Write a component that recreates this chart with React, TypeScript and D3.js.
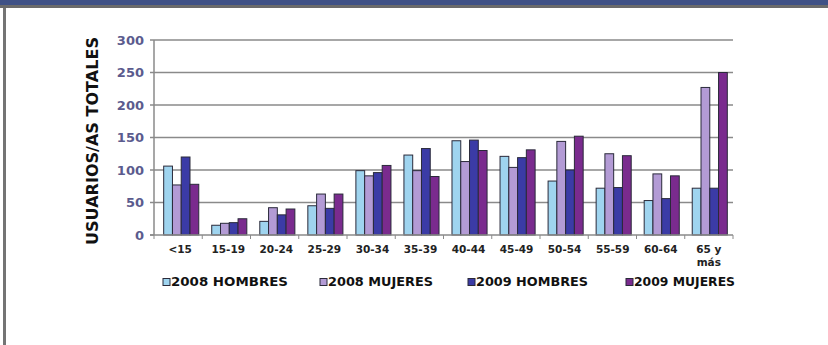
import React, { useEffect, useRef } from 'react';
import * as d3 from 'd3';

const categories = ['<15', '15-19', '20-24', '25-29', '30-34', '35-39', '40-44', '45-49', '50-54', '55-59', '60-64', '65 y más'];
const seriesNames = ['2008 HOMBRES', '2008 MUJERES', '2009 HOMBRES', '2009 MUJERES'];
const hombres2008 = [106, 15, 21, 45, 99, 123, 145, 121, 83, 72, 53, 72];
const mujeres2008 = [77, 18, 42, 63, 91, 99, 113, 104, 144, 125, 94, 227];
const hombres2009 = [120, 19, 31, 41, 96, 133, 146, 119, 100, 73, 56, 72];
const mujeres2009 = [78, 25, 40, 63, 107, 90, 130, 131, 152, 122, 91, 250];
const yTicks = [0, 50, 100, 150, 200, 250, 300];
const colors = ['#9fd4ef', '#b39bd5', '#3b3ba6', '#7a2b8e'];

const App: React.FC = () => {
  const chartRef = useRef<SVGSVGElement | null>(null);

  useEffect(() => {
    drawChart();
  }, []);

  const drawChart = () => {
    const svg = d3.select(chartRef.current);
    svg.selectAll('*').remove();

    const margin = { top: 40, left: 154, right: 95, bottom: 110 };
    const W = 828;
    const H = 345;
    const width = W - margin.left - margin.right;
    const height = H - margin.top - margin.bottom;

    // frame
    svg.append('rect').attr('x', 0).attr('y', 0).attr('width', W).attr('height', 5).attr('fill', '#3f5186');
    svg.append('rect').attr('x', 0).attr('y', 5).attr('width', W).attr('height', 3).attr('fill', '#6b6b6b');
    svg.append('rect').attr('x', 3).attr('y', 8).attr('width', 3).attr('height', H - 8).attr('fill', '#747474');

    const g = svg.append('g').attr('transform', `translate(${margin.left},${margin.top})`);

    const x = d3.scaleBand().domain(categories).range([0, width]).paddingInner(0.27).paddingOuter(0.16);
    const xSub = d3.scaleBand().domain(seriesNames).range([0, x.bandwidth()]).padding(0);
    const y = d3.scaleLinear().domain([0, 300]).range([height, 0]);

    // grid
    g.selectAll('.grid')
      .data(yTicks.filter((t) => t > 0))
      .enter()
      .append('line')
      .attr('x1', 0)
      .attr('x2', width)
      .attr('y1', (d) => y(d))
      .attr('y2', (d) => y(d))
      .attr('stroke', '#8a8a8a')
      .attr('stroke-width', 1.5);

    // y axis
    g.append('line').attr('x1', 0).attr('x2', 0).attr('y1', 0).attr('y2', height).attr('stroke', '#8a8a8a').attr('stroke-width', 1.5);
    g.selectAll('.ytick')
      .data(yTicks)
      .enter()
      .append('line')
      .attr('x1', -4)
      .attr('x2', 0)
      .attr('y1', (d) => y(d))
      .attr('y2', (d) => y(d))
      .attr('stroke', '#8a8a8a')
      .attr('stroke-width', 1.5);
    g.selectAll('.ylabel')
      .data(yTicks)
      .enter()
      .append('text')
      .attr('x', -10)
      .attr('y', (d) => y(d))
      .attr('dy', '0.35em')
      .attr('text-anchor', 'end')
      .attr('font-family', 'DejaVu Sans, Verdana, sans-serif')
      .attr('font-weight', 'bold')
      .attr('font-size', 13)
      .attr('fill', '#5b5b8e')
      .text((d) => d);

    g.append('text')
      .attr('transform', `translate(${93 - margin.left},${141 - margin.top}) rotate(-90)`)
      .attr('text-anchor', 'middle')
      .attr('dy', '0.35em')
      .attr('font-family', 'DejaVu Sans, Verdana, sans-serif')
      .attr('font-weight', 'bold')
      .attr('font-size', 15)
      .attr('fill', '#111')
      .attr('textLength', 208)
      .attr('lengthAdjust', 'spacingAndGlyphs')
      .text('USUARIOS/AS TOTALES');

    // bars
    const series = [hombres2008, mujeres2008, hombres2009, mujeres2009];
    categories.forEach((c, i) => {
      series.forEach((vals, s) => {
        g.append('rect')
          .attr('x', (x(c) ?? 0) + 2 + (xSub(seriesNames[s]) ?? 0))
          .attr('y', y(vals[i]))
          .attr('width', xSub.bandwidth())
          .attr('height', height - y(vals[i]))
          .attr('fill', colors[s])
          .attr('stroke', '#2a2a3a')
          .attr('stroke-width', 1);
      });
    });

    // x axis
    g.append('line').attr('x1', -4).attr('x2', width).attr('y1', height).attr('y2', height).attr('stroke', '#8a8a8a').attr('stroke-width', 1.5);
    g.selectAll('.xtick')
      .data(d3.range(categories.length + 1))
      .enter()
      .append('line')
      .attr('x1', (d) => d * (width / categories.length))
      .attr('x2', (d) => d * (width / categories.length))
      .attr('y1', height)
      .attr('y2', height + 4)
      .attr('stroke', '#8a8a8a')
      .attr('stroke-width', 1);

    const xl = g
      .selectAll('.xlabel')
      .data(categories)
      .enter()
      .append('text')
      .attr('x', (d) => (x(d) ?? 0) + x.bandwidth() / 2 + 1)
      .attr('y', height + 14)
      .attr('dy', '0.35em')
      .attr('text-anchor', 'middle')
      .attr('font-family', 'DejaVu Sans, Verdana, sans-serif')
      .attr('font-weight', 'bold')
      .attr('font-size', 10.5)
      .attr('fill', '#222');
    xl.each(function (d) {
      const t = d3.select(this);
      if (d === '65 y más') {
        t.append('tspan').attr('x', (x(d) ?? 0) + x.bandwidth() / 2 + 1).text('65 y');
        t.append('tspan').attr('x', (x(d) ?? 0) + x.bandwidth() / 2 + 1).attr('dy', 13).text('más');
      } else {
        t.text(d);
      }
    });

    // legend
    const legendX = [163, 320, 468, 626];
    const legend = svg
      .selectAll('.legend')
      .data(seriesNames)
      .enter()
      .append('g')
      .attr('transform', (d, i) => `translate(${legendX[i]},282)`);
    legend
      .append('rect')
      .attr('x', 0)
      .attr('y', -3.5)
      .attr('width', 7)
      .attr('height', 7)
      .attr('fill', (d, i) => colors[i])
      .attr('stroke', '#2a2a3a')
      .attr('stroke-width', 1);
    legend
      .append('text')
      .attr('x', 8)
      .attr('y', 0)
      .attr('dy', '0.35em')
      .attr('font-family', 'DejaVu Sans, Verdana, sans-serif')
      .attr('font-weight', 'bold')
      .attr('font-size', 12.5)
      .attr('fill', '#111')
      .attr('textLength', (d, i) => [117, 105, 112, 101][i])
      .attr('lengthAdjust', 'spacingAndGlyphs')
      .text((d) => d);
  };

  return (
    <svg
      ref={chartRef}
      width={828}
      height={345}
      style={{ position: 'absolute', left: 0, top: 0, background: '#fff' }}
    />
  );
};

export default App;
